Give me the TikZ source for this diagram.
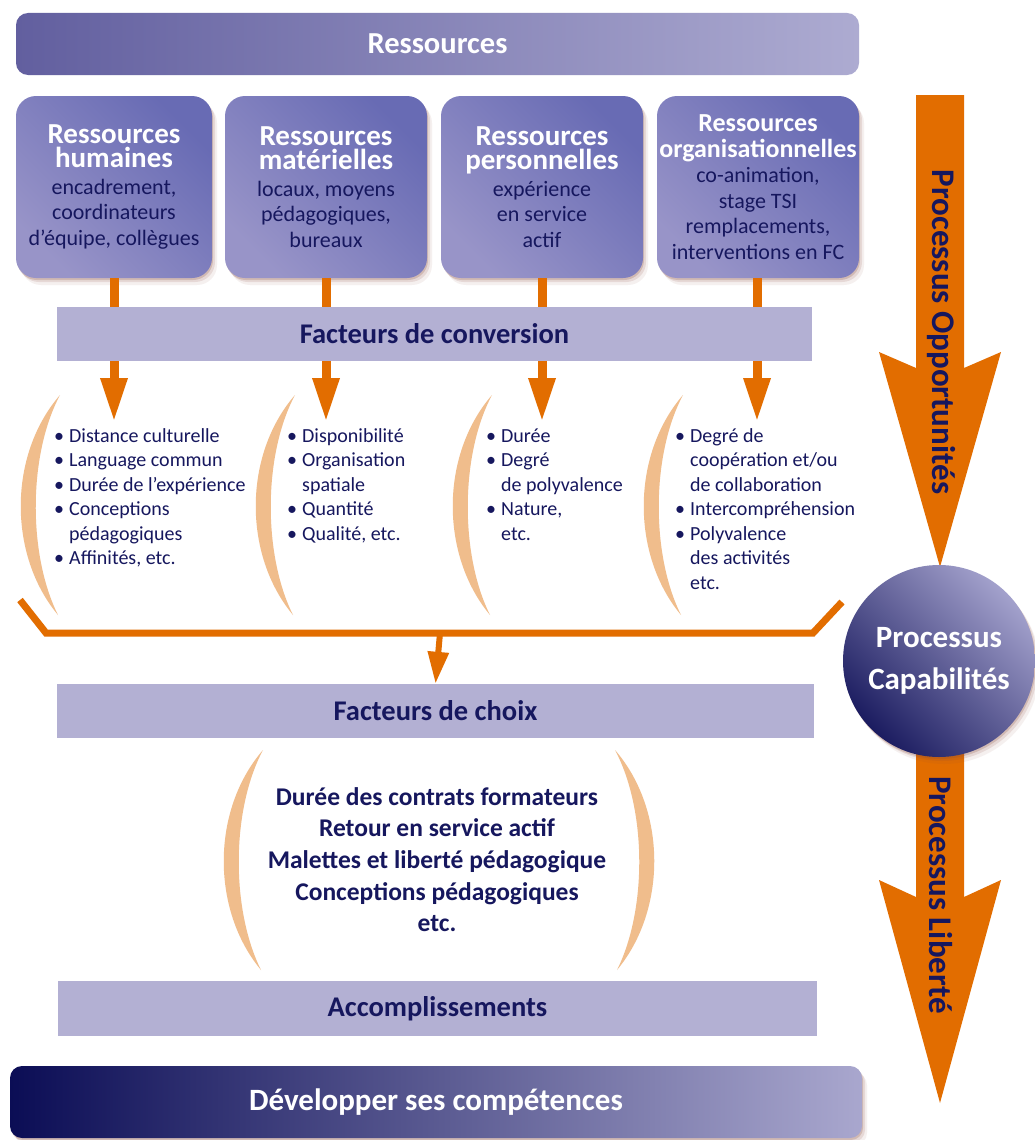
\documentclass[tikz,border=0pt]{standalone}
\usepackage{fontspec}
\setmainfont{Carlito}
\usetikzlibrary{arrows.meta,shadows}
\definecolor{orng}{HTML}{E26D00}
\definecolor{peach}{HTML}{F0BD8C}
\definecolor{lav}{HTML}{B3B0D3}
\definecolor{navy}{HTML}{16175E}
\definecolor{boxdark}{HTML}{686BB4}
\definecolor{boxlight}{HTML}{9894C8}
\definecolor{topdark}{HTML}{625F9F}
\definecolor{toplight}{HTML}{ADABD1}
\definecolor{devdark}{HTML}{0B0D55}
\definecolor{devlight}{HTML}{A9A7CE}
\definecolor{circdark}{HTML}{1B1C60}
\definecolor{circlight}{HTML}{A3A1CC}
\definecolor{shadowc}{HTML}{8A4A3E}
\newcommand\bul{\makebox[15pt][l]{•}}
\newcommand\ind{\hspace*{15pt}}
\newcommand\ttlf{\fontsize{29}{24}\selectfont\bfseries\color{white}}
\newcommand\ttlg{\fontsize{26}{26}\selectfont\bfseries\color{white}}
\newcommand\bodyf{\fontsize{22}{25.5}\selectfont\mdseries\color{navy}}
\begin{document}
\begin{tikzpicture}[x=1pt,y=-1pt,
  softshadow/.style={
    drop shadow={shadow xshift=1pt, shadow yshift=-2pt, fill=shadowc, opacity=.22},
    drop shadow={shadow xshift=3pt, shadow yshift=-4pt, fill=shadowc, opacity=.14},
    drop shadow={shadow xshift=5pt, shadow yshift=-7pt, fill=shadowc, opacity=.08}},
  topbar/.style={rounded corners=12pt, minimum width=843pt, minimum height=62pt, inner sep=0pt,
    left color=topdark, right color=toplight, text=white, font=\fontsize{30.5}{32}\selectfont\bfseries},
  resbox/.style={rounded corners=20pt, minimum width=202pt, minimum height=182pt, inner sep=0pt,
    top color=boxdark, bottom color=boxlight, shading angle=-45, softshadow},
  lavbar/.style={fill=lav, minimum width=755pt, minimum height=54pt, inner sep=0pt, text=navy,
    font=\fontsize{28.5}{30}\selectfont\bfseries},
  conn/.style={draw=orng, line width=9pt, -{Triangle[width=25pt,length=44pt]}},
  blist/.style={anchor=base west, inner sep=0pt, text=navy, font=\fontsize{20}{24.5}\selectfont},
  vlabel/.style={rotate=-90, inner sep=0pt, text=navy, font=\fontsize{33}{35}\selectfont\bfseries},
  lp/.pic={\fill[peach] (0,0) .. controls (-52,60) and (-52,160) .. (-2,220)
           .. controls (-32,160) and (-32,60) .. (0,0) -- cycle;}
]
\useasboundingbox (0,0) rectangle (1035,1140);
\fill[white] (0,0) rectangle (1035,1140);

% top bar
\node[topbar] (res) at (437.5,44) {Ressources};

% resource boxes
\node[resbox, minimum width=196pt] (b1) at (114,187)
  {\parbox{194pt}{\centering\ttlf Ressources\\humaines\\[1pt]\bodyf encadrement,\\coordinateurs\\d’équipe, collègues}};
\node[resbox] (b2) at (326,187)
  {\parbox{200pt}{\centering\ttlf Ressources\\matérielles\\[1pt]\bodyf locaux, moyens\\pédagogiques,\\bureaux}};
\node[resbox] (b3) at (542,187)
  {\parbox{200pt}{\centering\ttlf Ressources\\personnelles\\[1pt]\bodyf expérience\\en service\\actif}};
\node[resbox] (b4) at (758,187)
  {\parbox{200pt}{\centering\ttlg Ressources\\organisationnelles\\\bodyf co-animation,\\stage TSI\\remplacements,\\interventions en FC}};

% big right arrows
\fill[orng] (916,95) -- (964,95) -- (964,368) -- (1001,352) -- (940,567) -- (879,352) -- (916,368) -- cycle;
\node[vlabel] (po) at (941,332) {Processus Opportunités};
\fill[orng] (916,720) -- (964,720) -- (964,897) -- (1001,880) -- (940,1103) -- (879,880) -- (916,897) -- cycle;
\node[vlabel] (pl) at (941,895) {Processus Liberté};

% conversion arrows
\coordinate (e1) at (114,422);
\coordinate (e2) at (326,422);
\coordinate (e3) at (542,422);
\coordinate (e4) at (757,422);
\draw[conn] (b1.south) -- (e1);
\draw[conn] (b2.south) -- (e2);
\draw[conn] (b3.south) -- (e3);
\draw[conn] (b4.south -| e4) -- (e4);
\node[lavbar] (fc) at (434.5,334) {Facteurs de conversion};

% parentheses
\pic at (60,395) {lp};
\pic at (295,395) {lp};
\pic at (492,395) {lp};
\pic at (683,395) {lp};

% lists
\node[blist] (g1) at (54,442) {\parbox[t]{230pt}{\raggedright
  \bul Distance culturelle\\ \bul Language commun\\ \bul Durée de l’expérience\\
  \bul Conceptions\\ \ind pédagogiques\\ \bul Affinités, etc.}};
\node[blist] (g2) at (287,442) {\parbox[t]{200pt}{\raggedright
  \bul Disponibilité\\ \bul Organisation\\ \ind spatiale\\ \bul Quantité\\ \bul Qualité, etc.}};
\node[blist] (g3) at (486,442) {\parbox[t]{200pt}{\raggedright
  \bul Durée\\ \bul Degré\\ \ind de polyvalence\\ \bul Nature,\\ \ind etc.}};
\node[blist] (g4) at (675,442) {\parbox[t]{200pt}{\raggedright
  \bul Degré de\\ \ind coopération et/ou\\ \ind de collaboration\\ \bul Intercompréhension\\
  \bul Polyvalence\\ \ind des activités\\ \ind etc.}};

% bracket
\draw[orng, line width=7pt] (20,600) -- (46,633) -- (813,633) -- (842,602);
\coordinate (br) at (440,633);
\node[lavbar, minimum width=757pt] (fch) at (435.5,711) {Facteurs de choix};
\draw[orng, line width=6pt, -{Triangle[width=20pt,length=32pt]}] (br) -- (fch.north);

% choice factors
\pic at (263,750) {lp};
\pic[xscale=-1] at (615,750) {lp};
\node[anchor=base, inner sep=0pt, text=navy, font=\fontsize{25.5}{31.7}\selectfont\bfseries] (cf) at (437,805)
  {\parbox[t]{440pt}{\centering Durée des contrats formateurs\\ Retour en service actif\\ Malettes et liberté pédagogique\\ Conceptions pédagogiques\\ etc.}};

\node[lavbar, minimum width=759pt, minimum height=55pt] (acc) at (437.5,1008.5) {Accomplissements};

% capabilities circle
\node[circle, minimum size=192pt, inner sep=0pt, top color=circlight, bottom color=circdark, shading angle=-45,
  softshadow, text=white, font=\fontsize{31}{42}\selectfont\bfseries, align=center] (cap) at (939,661)
  {Processus\\Capabilités};

% bottom bar
\node[rounded corners=12pt, minimum width=852pt, minimum height=72pt, inner sep=0pt,
  left color=devdark, right color=devlight, softshadow, text=white,
  font=\fontsize{31}{33}\selectfont\bfseries] (dev) at (436,1102) {Développer ses compétences};
\end{tikzpicture}
\end{document}
